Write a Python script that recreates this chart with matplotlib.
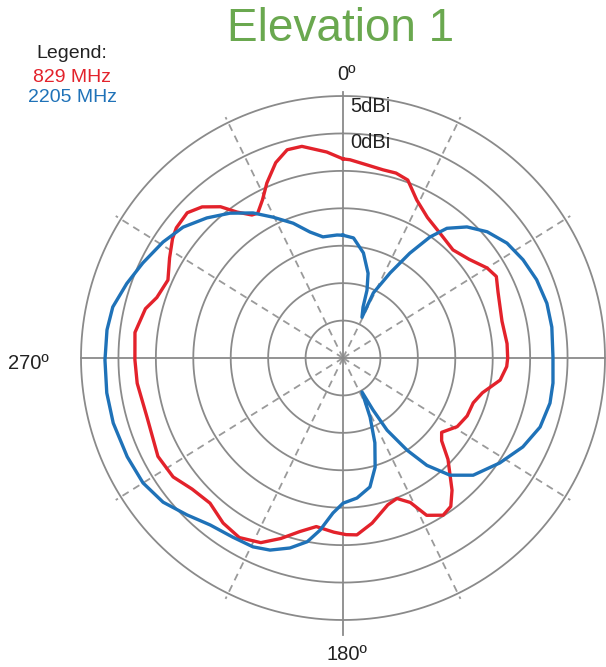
import matplotlib
matplotlib.use("Agg")
import matplotlib.pyplot as plt
import numpy as np

plt.rcParams["font.family"] = ["Liberation Sans", "DejaVu Sans"]

# 829 MHz trace: angle (deg, clockwise from 0) and gain (dBi)
red_deg = [0, 2, 7, 12, 16, 20, 25, 31, 38, 45.5, 52, 58, 62, 67, 77, 85, 90,
           93, 98, 104, 109, 115, 121, 127, 130, 134, 140.5, 144, 147.5, 152,
           155, 159, 163, 170, 175.5, 179, 183, 189, 194, 199, 204, 210, 216,
           222.5, 229, 235, 242, 253, 263, 269.5, 277, 284, 288, 294, 300, 305,
           308, 313, 317, 321, 324, 327.5, 329.5, 333, 336.5, 341, 345, 349,
           355.5, 360]
red_db = [-3.4, -3.5, -4.0, -4.3, -4.3, -4.7, -6.7, -8.1, -8.9, -9.4, -8.6,
          -7.3, -6.8, -7.5, -8.2, -8.0, -8.0, -8.1, -8.8, -10.8, -11.6, -11.7,
          -12.2, -13.5, -12.8, -10.5, -7.1, -5.5, -5.1, -6.2, -8.7, -9.9, -9.5,
          -7.6, -6.3, -6.4, -6.7, -7.2, -6.1, -4.5, -3.0, -2.3, -2.75, -3.7,
          -3.3, -2.3, -2.0, -2.65, -2.3, -2.2, -2.0, -2.8, -3.85, -4.4, -3.25,
          -2.2, -1.75, -1.55, -2.4, -4.0, -5.9, -7.35, -7.55, -6.3, -4.5, -2.4,
          -1.2, -1.2, -2.4, -3.4]

# 2205 MHz trace
blue_deg = [0, 5, 11, 16.5, 19.5, 21.5, 25, 25, 29, 32.5, 35.7, 38.7, 43.4,
            48.8, 55, 61.4, 68, 75, 81.6, 89.7, 96.8, 102.3, 109.3, 116.3,
            123.8, 132, 137.6, 142, 145.2, 148.6, 150, 150.8, 155.4, 159.4,
            163.6, 168.2, 174.3, 180, 183.7, 187.6, 191, 195.6, 200.8, 205.5,
            211.6, 218.5, 224.8, 231.3, 238, 245.4, 254.2, 261.6, 269.5, 276.8,
            282.5, 289, 295.4, 302.8, 309.3, 315.8, 322, 328.2, 333.6, 339.7,
            345.3, 350.6, 357.2, 360]
blue_db = [-13.6, -13.9, -15.7, -18.2, -20.4, -22.7, -24.0, -20.4, -17.0,
           -13.4, -10.1, -7.8, -5.9, -4.4, -3.25, -2.6, -2.1, -1.8, -1.8,
           -1.95, -1.75, -1.7, -2.1, -3.2, -4.8, -6.6, -8.8, -11.8, -15.0,
           -18.7, -22.0, -24.8, -21.3, -17.9, -14.8, -12.4, -11.2, -10.6,
           -9.25, -6.8, -5.0, -3.65, -2.55, -2.05, -1.9, -1.5, -0.45, 0.8, 1.5,
           1.7, 1.9, 1.9, 1.8, 1.75, 1.5, 0.55, -0.4, -1.4, -2.4, -3.9, -5.45,
           -7.2, -9.0, -10.8, -12.6, -13.6, -13.55, -13.6]

ring_db = [-25, -20, -15, -10, -5, 0, 5]
dash_deg = [26, 58, 122, 154, 206, 238, 302, 334]
r_min, r_max = -30, 5

W, H = 606, 667
fig = plt.figure(figsize=(W / 100, H / 100), dpi=100)
cx, cy, R = 343, 358, 262
ax = fig.add_axes([(cx - R) / W, 1 - (cy + R) / H, 2 * R / W, 2 * R / H],
                  projection="polar")
ax.set_theta_zero_location("N")
ax.set_theta_direction(-1)
ax.set_ylim(r_min, r_max)
ax.grid(False)
ax.set_xticks([])
ax.set_yticks([])
ax.spines["polar"].set_visible(False)
ax.patch.set_alpha(0)

full = np.linspace(0, 2 * np.pi, 721)
for r in ring_db:
    ax.plot(full, [r] * len(full), color="#8a8a8a", lw=1.3, zorder=1,
            clip_on=False)

for a in dash_deg:
    ax.plot([np.radians(a)] * 2, [r_min, 5.8], color="#9a9a9a", lw=1.3,
            ls=(0, (4, 3)), zorder=1, clip_on=False)

for a, r_end in [(0, 5.5), (90, 5.0), (180, 7.0), (270, 5.0)]:
    ax.plot([np.radians(a)] * 2, [r_min, r_end], color="#8a8a8a", lw=1.3,
            zorder=1, clip_on=False)

ax.plot(np.radians(red_deg), red_db, color="#e3222b", lw=2.4, zorder=3,
        solid_joinstyle="round", clip_on=False)
ax.plot(np.radians(blue_deg), blue_db, color="#1f72b8", lw=2.4, zorder=4,
        solid_joinstyle="round", clip_on=False)


def px(x, y):
    return x / W, 1 - y / H


fig.text(*px(341, 29), "Elevation 1", color="#6aa84f", fontsize=33,
         ha="center", va="center")
fig.text(*px(72, 54), "Legend:", color="#222222", fontsize=14,
         ha="center", va="center")
fig.text(*px(72, 77), "829 MHz", color="#e3222b", fontsize=14,
         ha="center", va="center")
fig.text(*px(72, 98), "2205 MHz", color="#1f72b8", fontsize=14,
         ha="center", va="center")

fig.text(*px(347, 75), "0º", color="#222222", fontsize=14.5,
         ha="center", va="center")
fig.text(*px(347, 655), "180º", color="#222222", fontsize=14.5,
         ha="center", va="center")
fig.text(*px(28, 364), "270º", color="#222222", fontsize=14.5,
         ha="center", va="center")
fig.text(*px(350, 107), "5dBi", color="#222222", fontsize=14.5,
         ha="left", va="center")
fig.text(*px(350, 143), "0dBi", color="#222222", fontsize=14.5,
         ha="left", va="center")

fig.savefig("out.png", dpi=100)
